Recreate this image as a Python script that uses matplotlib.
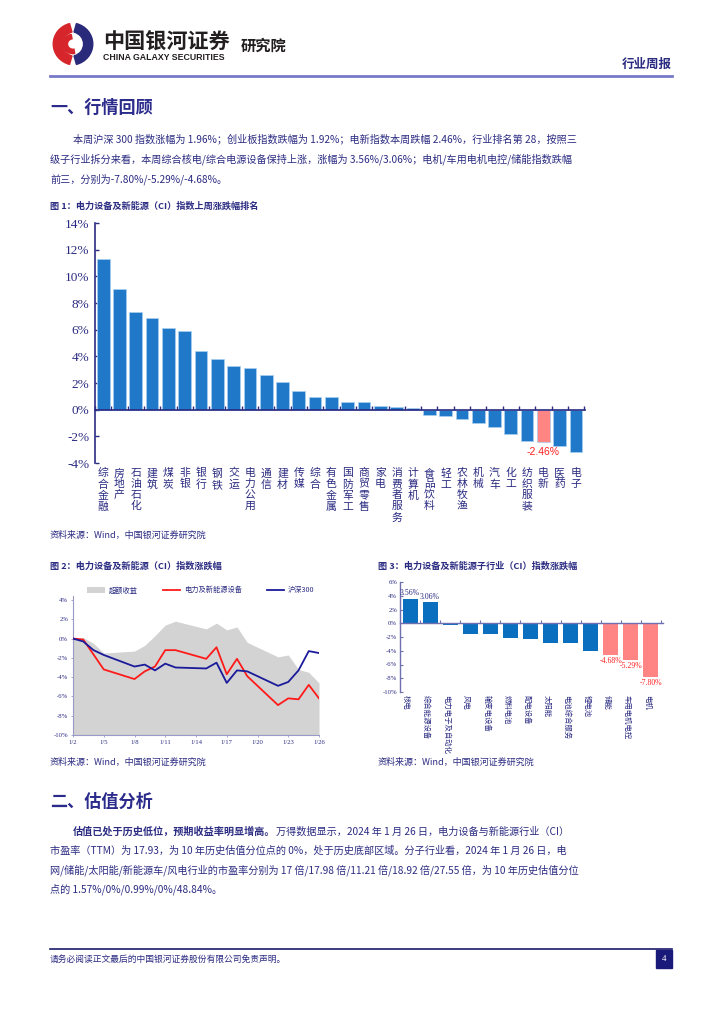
import numpy as np
import matplotlib.pyplot as plt
from matplotlib.patches import Rectangle, Wedge
from matplotlib.lines import Line2D
from matplotlib.transforms import blended_transform_factory

W, H = 724, 1024
CJK = ['Noto Sans CJK SC', 'DejaVu Sans']
SERIF = ['Liberation Serif', 'Noto Sans CJK SC']
NAVY = '#2b2b82'
BLUE1 = '#1f78c8'
BLUE3 = '#0b6fbf'
PINK = '#ff8585'

# -- Figure 1: industry index change last week
ind_names = ['综合金融', '房地产', '石油石化', '建筑', '煤炭', '非银', '银行', '钢铁', '交运',
             '电力公用', '通信', '建材', '传媒', '综合', '有色金属', '国防军工', '商贸零售', '家电',
             '消费者服务', '计算机', '食品饮料', '轻工', '农林牧渔', '机械', '汽车', '化工',
             '纺织服装', '电新', '医药', '电子']
ind_chg = [11.33, 9.02, 7.32, 6.85, 6.15, 5.88, 4.41, 3.81, 3.29, 3.09, 2.57, 2.07, 1.40,
           0.97, 0.95, 0.57, 0.55, 0.30, 0.20, 0.10, -0.37, -0.45, -0.67, -1.02, -1.27,
           -1.82, -2.34, -2.46, -2.74, -3.14]
ind_ticks = [-4, -2, 0, 2, 4, 6, 8, 10, 12, 14]

# -- Figure 2: index change in January
days = [2, 3, 4, 5, 8, 9, 10, 11, 12, 15, 16, 17, 18, 19, 22, 23, 24, 25, 26]
excess = [0.0, 0.1, -0.5, -1.5, -1.3, -0.7, 0.3, 1.4, 1.8, 1.0, 1.6, 0.9, 1.2, -0.4,
          -1.9, -1.7, -3.2, -3.5, -4.6]
sector = [0.0, -0.1, -1.65, -3.2, -4.2, -3.4, -2.9, -1.2, -1.2, -2.1, -0.9, -3.7, -2.1,
          -3.9, -6.9, -6.2, -6.3, -4.8, -6.2]
hs300 = [0.0, -0.3, -1.2, -1.7, -2.9, -2.7, -3.3, -2.6, -3.0, -3.1, -2.5, -4.6, -3.3,
         -3.4, -4.9, -4.5, -3.3, -1.3, -1.5]
day_ticks = [2, 5, 8, 11, 14, 17, 20, 23, 26]
f2_ticks = [-10, -8, -6, -4, -2, 0, 2, 4]

# -- Figure 3: sub-industry change
sub_names = ['核电', '综合能源设备', '电力电子及自动化', '风电', '输变电设备', '燃料电池',
             '配电设备', '太阳能', '电池综合服务', '锂电池', '储能', '车用电机电控', '电机']
sub_chg = [3.56, 3.06, -0.29, -1.55, -1.60, -2.08, -2.23, -2.81, -2.91, -4.07, -4.68, -5.29, -7.80]
f3_ticks = [-10, -8, -6, -4, -2, 0, 2, 4, 6]

plt.rcParams['font.family'] = CJK
fig = plt.figure(figsize=(W / 100, H / 100), dpi=100)


def add_ax(l, t, r, b):
    return fig.add_axes([l / W, 1 - b / H, (r - l) / W, (b - t) / H])


def txt(x, y, s, **kw):
    kw.setdefault('va', 'center')
    kw.setdefault('color', NAVY)
    return fig.text(x / W, 1 - y / H, s, **kw)


def hline(x0, x1, y, **kw):
    fig.add_artist(Line2D([x0 / W, x1 / W], [1 - y / H, 1 - y / H], **kw))


# ---- header
logo = add_ax(50, 22, 96, 66)
logo.set_xlim(0, 1)
logo.set_ylim(0, 1)
logo.axis('off')
logo.add_patch(Wedge((0.55, 0.5), 0.48, 105, 255, width=0.2, color='#d7262b'))
logo.add_patch(Wedge((0.45, 0.5), 0.48, -75, 75, width=0.2, color='#2a2a7a'))
logo.add_patch(Wedge((0.5, 0.5), 0.22, 100, 280, width=0.1, color='#d7262b'))
txt(103, 41, '中国银河证券', fontsize=15.2, fontweight='bold', color='#231f20')
txt(103, 58, 'CHINA GALAXY SECURITIES', fontsize=6.3, fontweight='bold', color='#231f20',
    family=['Liberation Sans', 'DejaVu Sans'])
txt(241, 46, '研究院', fontsize=11, fontweight='bold', color='#231f20')
txt(672, 64, '行业周报', fontsize=9, fontweight='bold', ha='right')
hline(50, 672, 76, color='#7878c8', lw=2)

# ---- section 1
txt(50, 108, '一、行情回顾', fontsize=12.3, fontweight='bold', color='#2b2b8c')
para1 = ['本周沪深 300 指数涨幅为 1.96%；创业板指数跌幅为 1.92%；电新指数本周跌幅 2.46%，行业排名第 28，按照三',
         '级子行业拆分来看，本周综合核电/综合电源设备保持上涨，涨幅为 3.56%/3.06%；电机/车用电机电控/储能指数跌幅',
         '前三，分别为-7.80%/-5.29%/-4.68%。']
for i, line in enumerate(para1):
    txt(73 if i == 0 else 50, 139 + 20 * i, line, fontsize=7.3)

# ---- figure 1
txt(50, 206, '图 1：电力设备及新能源（CI）指数上周涨跌幅排名', fontsize=6.6, fontweight='bold')
ax1 = add_ax(95, 223, 585, 463)
x1 = np.arange(len(ind_names))
cols = [PINK if n == '电新' else BLUE1 for n in ind_names]
ax1.bar(x1, ind_chg, width=0.78, color=cols, edgecolor='#a8d0f0', linewidth=0.5, zorder=2)
ax1.set_xlim(-0.5, len(ind_names) - 0.45)
ax1.set_ylim(-4, 14)
ax1.set_yticks(ind_ticks)
ax1.set_yticklabels([f'{t}%' for t in ind_ticks], family=SERIF, fontsize=9.5, color=NAVY)
ax1.set_xticks(np.arange(len(ind_names) + 1) - 0.5)
ax1.set_xticklabels([])
ax1.tick_params(axis='x', direction='in', length=3, color=NAVY, width=1)
ax1.tick_params(axis='y', direction='in', length=3, color=NAVY, width=1, pad=4)
ax1.spines['bottom'].set_position(('data', 0))
for s in ['top', 'right']:
    ax1.spines[s].set_visible(False)
for s in ['left', 'bottom']:
    ax1.spines[s].set_color(NAVY)
    ax1.spines[s].set_linewidth(1.2)
tr1 = blended_transform_factory(ax1.transData, ax1.transAxes)
for xi, name in zip(x1, ind_names):
    ax1.text(xi, -0.022, '\n'.join(name), transform=tr1, ha='center', va='top',
             fontsize=7.8, color=NAVY, linespacing=1.12)
i_hl = ind_names.index('电新')
ax1.text(i_hl, ind_chg[i_hl] - 0.35, f'{ind_chg[i_hl]:.2f}%', ha='center', va='top',
         fontsize=7.5, color='#ff2020', family=['Liberation Sans', 'DejaVu Sans'])
txt(50, 535, '资料来源：Wind，中国银河证券研究院', fontsize=6.5, style='italic')

# ---- figure 2
txt(50, 566, '图 2：电力设备及新能源（CI）指数涨跌幅', fontsize=6.6, fontweight='bold')
ax2 = add_ax(73, 600, 319, 735)
ax2.fill_between(days, excess, -10, color='#d3d3d3', lw=0, label='超额收益', zorder=1)
ax2.plot(days, sector, color='#ff1a1a', lw=1.3, label='电力及新能源设备', zorder=3)
ax2.plot(days, hs300, color='#1a1a9a', lw=1.3, label='沪深300', zorder=3)
ax2.set_xlim(2, 26)
ax2.set_ylim(-10, 4)
ax2.set_yticks(f2_ticks)
ax2.set_yticklabels([f'{t}%' for t in f2_ticks], family=SERIF, fontsize=4.8, color=NAVY)
ax2.set_xticks(day_ticks)
ax2.set_xticklabels([f'1/{d}' for d in day_ticks], family=SERIF, fontsize=4.8, color=NAVY)
ax2.tick_params(direction='out', length=1.5, color='#9a9ac8', width=0.6, pad=2)
for s in ['top', 'right']:
    ax2.spines[s].set_visible(False)
for s in ['left', 'bottom']:
    ax2.spines[s].set_color('#9a9ac8')
    ax2.spines[s].set_linewidth(0.8)
ax2.spines['left'].set_bounds(-10, 4.4)
ax2.legend(loc='lower center', bbox_to_anchor=(0.52, 1.02), ncol=3, frameon=False,
           fontsize=5.2, handlelength=2.4, handleheight=0.9, columnspacing=3.5,
           handletextpad=0.5, borderaxespad=0, labelcolor=NAVY)
txt(50, 762, '资料来源：Wind，中国银河证券研究院', fontsize=6.5, style='italic')

# ---- figure 3
txt(378, 566, '图 3：电力设备及新能源子行业（CI）指数涨跌幅', fontsize=6.6, fontweight='bold')
ax3 = add_ax(400, 582, 663, 692)
x3 = np.arange(len(sub_names))
cols3 = [PINK if i >= len(sub_names) - 3 else BLUE3 for i in x3]
ax3.bar(x3, sub_chg, width=0.75, color=cols3, zorder=2)
ax3.set_xlim(-0.5, len(sub_names) - 0.4)
ax3.set_ylim(-10, 6)
ax3.set_yticks(f3_ticks)
ax3.set_yticklabels([f'{t}%' for t in f3_ticks], family=SERIF, fontsize=4.8, color=NAVY)
ax3.set_xticks(np.arange(len(sub_names) + 1) - 0.5)
ax3.set_xticklabels([])
ax3.tick_params(axis='x', direction='in', length=2, color='#7070b0', width=0.8)
ax3.tick_params(axis='y', direction='in', length=2, color='#7070b0', width=0.8, pad=2)
ax3.spines['bottom'].set_position(('data', 0))
for s in ['top', 'right']:
    ax3.spines[s].set_visible(False)
for s in ['left', 'bottom']:
    ax3.spines[s].set_color('#7070b0')
    ax3.spines[s].set_linewidth(1.0)
tr3 = blended_transform_factory(ax3.transData, ax3.transAxes)
for xi, name in zip(x3, sub_names):
    ax3.text(xi - 0.2, -0.025, name, transform=tr3, rotation=270, ha='center', va='top',
             fontsize=5.3, color=NAVY)
for xi, v in zip(x3, sub_chg):
    if v > 0:
        ax3.text(xi, v + 0.2, f'{v:.2f}%', ha='center', va='bottom', fontsize=5.6,
                 family=SERIF, color=NAVY)
    elif xi >= len(sub_names) - 3:
        ax3.text(xi, v - 0.3, f'{v:.2f}%', ha='center', va='top', fontsize=5.6,
                 family=SERIF, color='#ff2020')
txt(378, 762, '资料来源：Wind，中国银河证券研究院', fontsize=6.5, style='italic')

# ---- section 2
txt(50, 802, '二、估值分析', fontsize=12.3, fontweight='bold', color='#2b2b8c')
bold_t = txt(73, 832, '估值已处于历史低位，预期收益率明显增高。', fontsize=7.3, fontweight='bold')
fig.canvas.draw()
bb = bold_t.get_window_extent(fig.canvas.get_renderer())
txt(bb.x1 + 1, 832, '万得数据显示，2024 年 1 月 26 日，电力设备与新能源行业（CI）', fontsize=7.3)
para2 = ['市盈率（TTM）为 17.93，为 10 年历史估值分位点的 0%，处于历史底部区域。分子行业看，2024 年 1 月 26 日，电',
         '网/储能/太阳能/新能源车/风电行业的市盈率分别为 17 倍/17.98 倍/11.21 倍/18.92 倍/27.55 倍，为 10 年历史估值分位',
         '点的 1.57%/0%/0.99%/0%/48.84%。']
for i, line in enumerate(para2):
    txt(50, 851 + 19 * i, line, fontsize=7.3)

# ---- footer
hline(50, 672, 949, color='#1a1a6a', lw=1.2)
txt(50, 959, '请务必阅读正文最后的中国银河证券股份有限公司免责声明。', fontsize=6.3)
fig.add_artist(Rectangle((656 / W, 1 - 968 / H), 16 / W, 18 / H, color='#1a1a7a'))
txt(664, 959, '4', fontsize=6.5, color='white', ha='center', family=SERIF)

fig.savefig('out.png', dpi=100)
